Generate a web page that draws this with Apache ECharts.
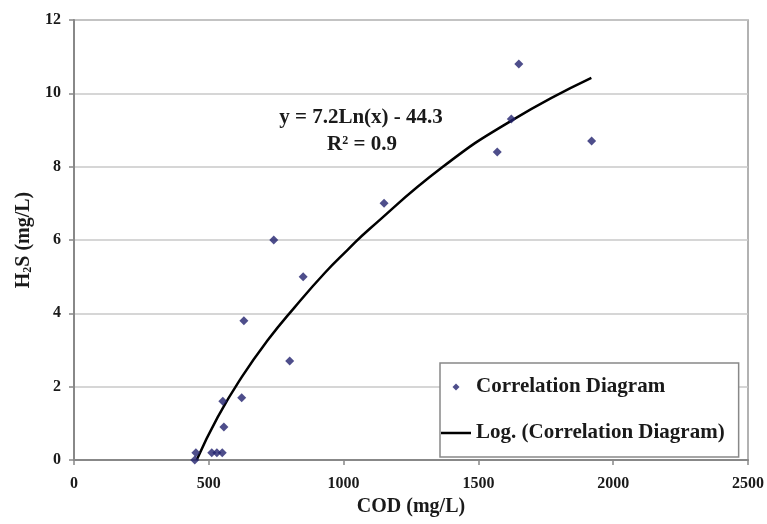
<!DOCTYPE html>
<html>
<head>
<meta charset="utf-8">
<script src="https://cdn.jsdelivr.net/npm/echarts@6/dist/echarts.min.js"></script>
<style>
html, body { margin: 0; padding: 0; background: #fff; }
#chart { width: 767px; height: 524px; }
</style>
</head>
<body>
<div id="chart"></div>
<script>
// COD (mg/L) / H2S (mg/L) 实测点
var codValues = [448, 452, 511, 530, 550, 552, 556, 622, 630, 741, 800, 850, 1150, 1570, 1622, 1650, 1920];
var h2sValues = [0, 0.2, 0.2, 0.2, 0.2, 1.6, 0.9, 1.7, 3.8, 6.0, 2.7, 5.0, 7.0, 8.4, 9.3, 10.8, 8.7];

// 趋势线 (从图上读出的点)
var trendCod = [455, 533, 622, 719, 819, 930, 1015, 1096, 1367, 1626, 1919];
var trendH2s = [0, 1.17, 2.26, 3.27, 4.17, 5.1, 5.73, 6.3, 7.99, 9.27, 10.42];

var xTicks = [0, 500, 1000, 1500, 2000, 2500];
var yTicks = [0, 2, 4, 6, 8, 10, 12];

var seriesNames = ['Correlation Diagram', 'Log. (Correlation Diagram)'];
var equationText = 'y = 7.2Ln(x) - 44.3';
var rSquared = '0.9';

var font = 'Liberation Serif';
var textColor = '#1a1a1a';
var markColor = '#22226e';

var chart = echarts.init(document.getElementById('chart'));

var points = codValues.map(function (c, i) { return [c, h2sValues[i]]; });
var trend = trendCod.map(function (c, i) { return [c, trendH2s[i]]; });

chart.setOption({
    animation: false,
    backgroundColor: '#fff',
    grid: {
        left: 74,
        right: 18,
        top: 20,
        bottom: 64,
        show: true,
        borderColor: '#999',
        borderWidth: 1.5
    },
    xAxis: {
        type: 'value',
        min: xTicks[0],
        max: xTicks[xTicks.length - 1],
        interval: 500,
        name: 'COD (mg/L)',
        nameLocation: 'middle',
        nameGap: 36,
        nameTextStyle: { fontFamily: font, fontWeight: 'bold', fontSize: 20, color: textColor },
        axisLine: { lineStyle: { color: '#888', width: 2 } },
        axisTick: { show: true, length: 5, lineStyle: { color: '#888', width: 1.5 } },
        axisLabel: {
            margin: 16, fontFamily: font, fontWeight: 'bold', fontSize: 16, color: textColor,
            formatter: function (v) { return String(v); }
        },
        splitLine: { show: false }
    },
    yAxis: {
        type: 'value',
        min: yTicks[0],
        max: yTicks[yTicks.length - 1],
        interval: 2,
        name: 'H{sub|2}S (mg/L)',
        nameLocation: 'middle',
        nameGap: 40,
        nameRotate: 90,
        nameTextStyle: {
            fontFamily: font, fontWeight: 'bold', fontSize: 20, color: textColor,
            rich: {
                sub: { fontFamily: font, fontWeight: 'bold', fontSize: 12, color: textColor, verticalAlign: 'bottom', padding: [8, 0, 0, 0] }
            }
        },
        axisLine: { show: true, lineStyle: { color: '#888', width: 2 } },
        axisTick: { show: true, length: 5, lineStyle: { color: '#888', width: 1.5 } },
        axisLabel: { margin: 13, fontFamily: font, fontWeight: 'bold', fontSize: 16, color: textColor },
        splitLine: { lineStyle: { color: '#c8c8c8', width: 1.5 } }
    },
    legend: {
        orient: 'vertical',
        left: 440,
        top: 363,
        padding: [12, 14, 12, 1],
        itemGap: 22,
        itemWidth: 30,
        itemHeight: 7,
        symbolKeepAspect: true,
        backgroundColor: '#fff',
        borderColor: '#888',
        borderWidth: 1.5,
        borderRadius: 0,
        textStyle: { fontFamily: font, fontWeight: 'bold', fontSize: 21, lineHeight: 24, color: textColor },
        data: [
            { name: seriesNames[0], icon: 'path://M5,0L10,5L5,10L0,5Z', itemStyle: { color: markColor } },
            { name: seriesNames[1], icon: 'path://M0,0H24V2H0Z', itemStyle: { color: '#000' } }
        ]
    },
    graphic: [
        {
            type: 'text',
            x: 361,
            y: 118,
            style: {
                text: equationText,
                textAlign: 'center',
                textVerticalAlign: 'middle',
                fontFamily: font,
                fontWeight: 'bold',
                fontSize: 21,
                fill: textColor
            }
        },
        {
            type: 'text',
            x: 362,
            y: 145,
            style: {
                text: 'R{sup|2} = ' + rSquared,
                textAlign: 'center',
                textVerticalAlign: 'middle',
                fontFamily: font,
                fontWeight: 'bold',
                fontSize: 21,
                fill: textColor,
                rich: {
                    sup: { fontFamily: font, fontWeight: 'bold', fontSize: 12, fill: textColor, verticalAlign: 'top', padding: [0, 0, 8, 0] }
                }
            }
        }
    ],
    series: [
        {
            name: seriesNames[0],
            type: 'scatter',
            data: points,
            symbol: 'diamond',
            symbolSize: 9,
            itemStyle: { color: markColor },
            z: 3
        },
        {
            name: seriesNames[1],
            type: 'line',
            data: trend,
            smooth: true,
            symbol: 'none',
            color: '#000',
            lineStyle: { color: '#000', width: 2.5 },
            z: 2
        }
    ]
});
</script>
</body>
</html>
